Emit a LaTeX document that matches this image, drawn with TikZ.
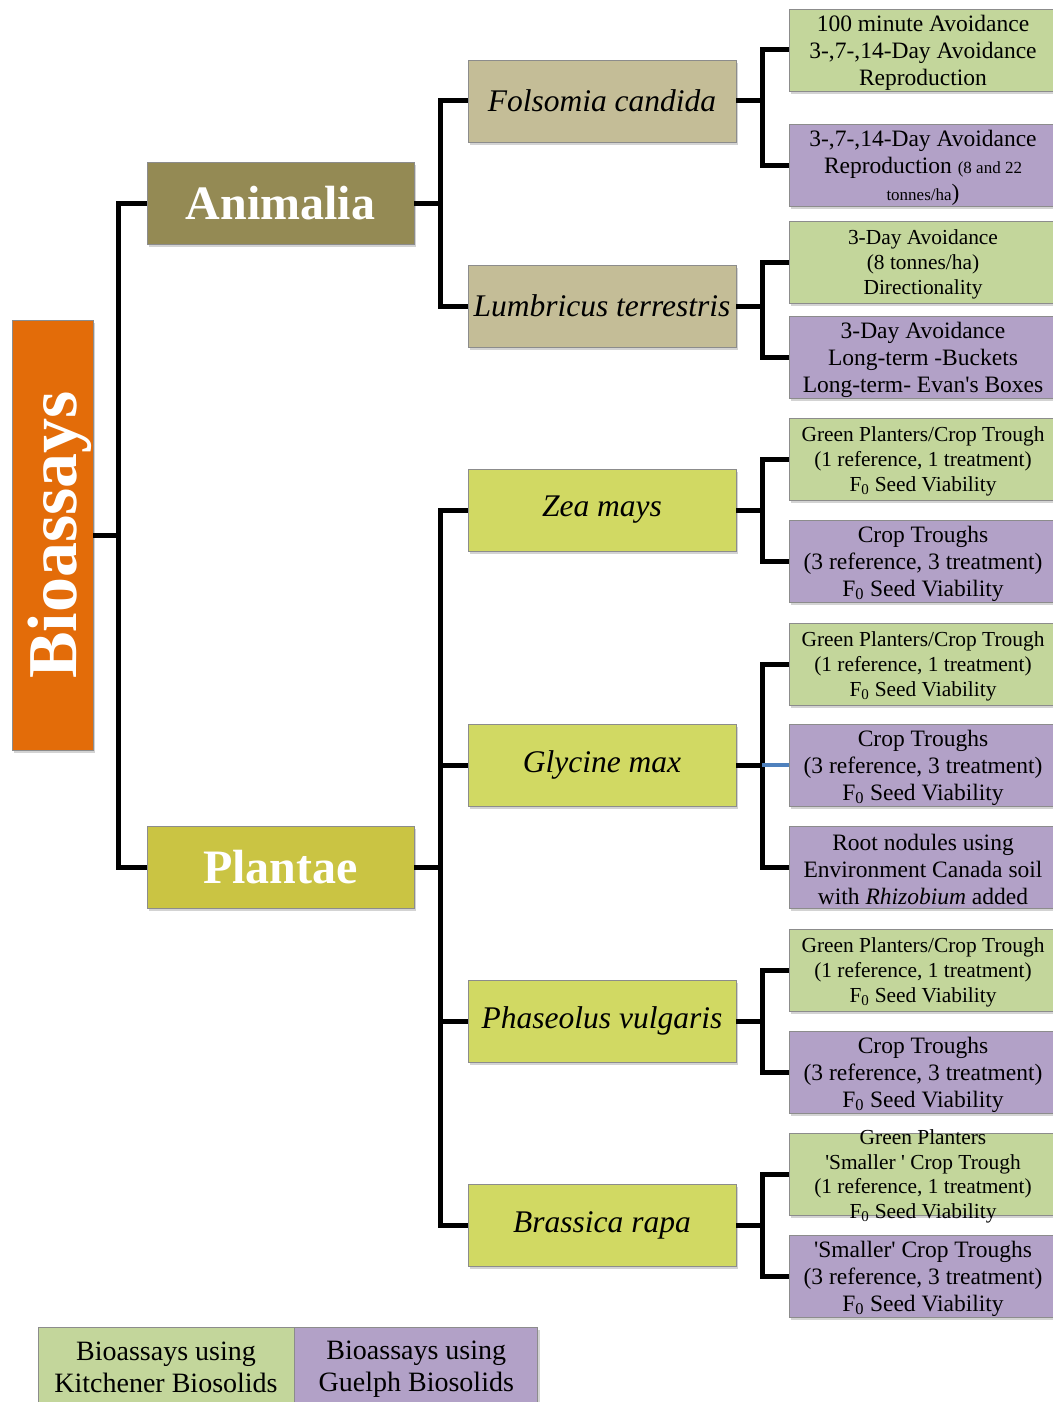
\documentclass[tikz,border=0pt]{standalone}
\usepackage{fontspec}
\setmainfont{Liberation Serif}
\usetikzlibrary{positioning,shadows}
\definecolor{orangeBio}{HTML}{E36C09}
\definecolor{oliveDark}{HTML}{948A54}
\definecolor{oliveYellow}{HTML}{CAC443}
\definecolor{tan}{HTML}{C4BD97}
\definecolor{lime}{HTML}{D1D963}
\definecolor{leafGreen}{HTML}{C3D69B}
\definecolor{leafPurple}{HTML}{B2A1C7}
\definecolor{linkBlue}{HTML}{4F81BD}
\newcommand{\topgap}{\rule{0pt}{0.915em}}
\tikzset{
  box/.style={rectangle, draw=black!45, line width=0.8pt, inner sep=0pt, align=center,
              drop shadow={opacity=0.35, shadow xshift=2pt, shadow yshift=-3pt}},
  kingdom/.style={box, minimum width=267pt, minimum height=82pt,
                  text=white, font=\fontsize{48}{50}\selectfont\bfseries},
  species/.style={box, minimum width=268pt, minimum height=82pt,
                  font=\fontsize{31.5}{34}\selectfont\itshape},
  assay/.style={box, minimum width=268pt, minimum height=82pt, inner ysep=-3pt,
                font=\fontsize{23.5}{27}\selectfont},
  assaysmall/.style={assay, font=\fontsize{21.4}{25}\selectfont},
  legend/.style={box, minimum height=80pt, font=\fontsize{28}{32}\selectfont},
  kitchener/.style={fill=leafGreen},
  guelph/.style={fill=leafPurple},
  tree/.style={line width=5pt, line join=miter, draw=black}
}

\begin{document}
\begin{tikzpicture}[x=1pt, y=-1pt]
\useasboundingbox (0,0) rectangle (1052,1402);

% root
\node[box, fill=orangeBio, minimum width=81pt, minimum height=430pt] (bio) at (52.5,535) {};
\node[rotate=90, text=white, font=\fontsize{70}{70}\selectfont\bfseries] (biolabel) at (60,535) {Bioassays};

% kingdoms
\node[kingdom, fill=oliveDark] (animalia) at (280.5,203) {Animalia};
\node[kingdom, fill=oliveYellow] (plantae) at (280.5,867) {Plantae};

% species
\node[species, fill=tan] (folsomia) at (602,101) {Folsomia candida};
\node[species, fill=tan] (lumbricus) at (602,306) {Lumbricus terrestris};
\node[species, fill=lime] (zea) at (602,510) {Zea mays};
\node[species, fill=lime] (glycine) at (602,765) {Glycine max};
\node[species, fill=lime] (phaseolus) at (602,1021) {Phaseolus vulgaris};
\node[species, fill=lime] (brassica) at (602,1225) {Brassica rapa};

% assays
\node[assay, kitchener] (fol1) at (923,50) {\topgap 100 minute Avoidance\\3-,7-,14-Day Avoidance\\Reproduction};
\node[assay, guelph] (fol2) at (923,165) {\topgap 3-,7-,14-Day Avoidance\\Reproduction {\fontsize{17}{20}\selectfont(8 and 22}\\{\fontsize{17}{24}\selectfont tonnes/ha})};
\node[assaysmall, kitchener] (lum1) at (923,262) {\topgap 3-Day Avoidance\\(8 tonnes/ha)\\Directionality};
\node[assay, guelph] (lum2) at (923,357) {\topgap 3-Day Avoidance\\Long-term -Buckets\\Long-term- Evan\textquotesingle s Boxes};
\node[assaysmall, kitchener] (zea1) at (923,459) {\topgap Green Planters/Crop Trough\\(1 reference, 1 treatment)\\F\textsubscript{0} Seed Viability};
\node[assay, guelph] (zea2) at (923,561) {\topgap Crop Troughs\\(3 reference, 3 treatment)\\F\textsubscript{0} Seed Viability};
\node[assaysmall, kitchener] (gly1) at (923,664) {\topgap Green Planters/Crop Trough\\(1 reference, 1 treatment)\\F\textsubscript{0} Seed Viability};
\node[assay, guelph] (gly2) at (923,765) {\topgap Crop Troughs\\(3 reference, 3 treatment)\\F\textsubscript{0} Seed Viability};
\node[assay, guelph] (gly3) at (923,867) {\topgap Root nodules using\\Environment Canada soil\\with \textit{Rhizobium} added};
\node[assaysmall, kitchener] (pha1) at (923,970) {\topgap Green Planters/Crop Trough\\(1 reference, 1 treatment)\\F\textsubscript{0} Seed Viability};
\node[assay, guelph] (pha2) at (923,1072) {\topgap Crop Troughs\\(3 reference, 3 treatment)\\F\textsubscript{0} Seed Viability};
\node[assaysmall, kitchener, inner ysep=-10.5pt, font=\fontsize{21.4}{24.5}\selectfont] (bra1) at (923,1174) {\topgap Green Planters\\\textquotesingle Smaller \textquotesingle{} Crop Trough\\(1 reference, 1 treatment)\\F\textsubscript{0} Seed Viability};
\node[assay, guelph] (bra2) at (923,1276) {\topgap\textquotesingle Smaller\textquotesingle{} Crop Troughs\\(3 reference, 3 treatment)\\F\textsubscript{0} Seed Viability};

% legend
\node[legend, kitchener, minimum width=256pt] (legK) at (166,1367) {Bioassays using\\Kitchener Biosolids};
\node[legend, guelph, minimum width=243pt, right=0pt of legK, yshift=-2pt, minimum height=84pt] (legG) {Bioassays using\\Guelph Biosolids};

% connectors
\draw[tree] (bio.east) -- ++(25,0) |- (animalia.west);
\draw[tree] (bio.east) -- ++(25,0) |- (plantae.west);
\foreach \s in {folsomia,lumbricus}
  \draw[tree] (animalia.east) -- ++(26,0) |- (\s.west);
\foreach \s in {zea,glycine,phaseolus,brassica}
  \draw[tree] (plantae.east) -- ++(26,0) |- (\s.west);
\foreach \s/\a in {folsomia/fol1,folsomia/fol2,lumbricus/lum1,lumbricus/lum2,
                   zea/zea1,zea/zea2,glycine/gly1,glycine/gly3,
                   phaseolus/pha1,phaseolus/pha2,brassica/bra1,brassica/bra2}
  \draw[tree] (\s.east) -- ++(26,0) |- (\a.west);
\draw[tree] (glycine.east) -- ++(26,0);
\draw[line width=4pt, draw=linkBlue] ([xshift=26pt]glycine.east) -- (gly2.west);
\end{tikzpicture}
\end{document}
